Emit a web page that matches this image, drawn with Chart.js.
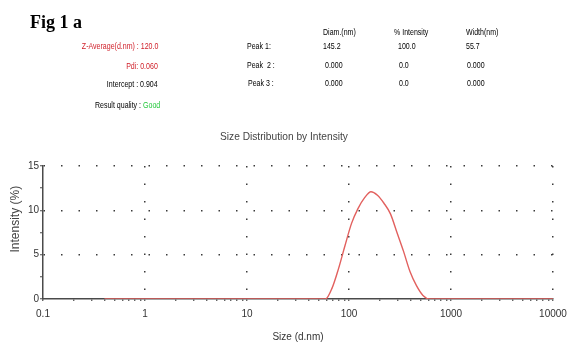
<!DOCTYPE html>
<html><head><meta charset="utf-8">
<script src="https://cdn.jsdelivr.net/npm/chart.js@4.4.1/dist/chart.umd.min.js"></script>
<style>
html,body{margin:0;padding:0;background:#fff;}
#wrap{position:relative;width:580px;height:356px;overflow:hidden;background:#fff;}
#c{position:absolute;left:0;top:0;}
.t{position:absolute;font-family:"Liberation Sans",Arial,sans-serif;font-size:9.5px;line-height:9.5px;white-space:nowrap;color:#000;transform:scaleX(0.74);}
.l{transform-origin:left center;}
.r{transform-origin:right center;}
.red{color:#d0202a;}
.grn{color:#22c83a;}
</style></head>
<body><div id="wrap">
<canvas id="c" width="580" height="356"></canvas>
<div style="position:absolute;left:30px;top:13px;font-family:'Liberation Serif','Times New Roman',serif;font-weight:bold;font-size:18px;line-height:18px;color:#000;white-space:nowrap;">Fig 1 a</div>

<div class="t r red" style="right:422px;top:40.6px;">Z-Average(d.nm) : 120.0</div>
<div class="t r red" style="right:422px;top:61px;">Pdi: 0.060</div>
<div class="t r" style="right:422px;top:79px;">Intercept : 0.904</div>
<div class="t r" style="right:420px;top:100px;">Result quality : <span class="grn">Good</span></div>

<div class="t l" style="left:247px;top:41.3px;">Peak 1:</div>
<div class="t l" style="left:247px;top:60.3px;">Peak&nbsp; 2 :</div>
<div class="t l" style="left:248px;top:78.3px;">Peak 3 :</div>

<div class="t l" style="left:323px;top:27.3px;">Diam.(nm)</div>
<div class="t l" style="left:394px;top:27.3px;">% Intensity</div>
<div class="t l" style="left:466px;top:27.3px;">Width(nm)</div>

<div class="t l" style="left:323px;top:41.3px;">145.2</div>
<div class="t l" style="left:398px;top:41.3px;">100.0</div>
<div class="t l" style="left:466px;top:41.3px;">55.7</div>

<div class="t l" style="left:325px;top:60px;">0.000</div>
<div class="t l" style="left:399px;top:60px;">0.0</div>
<div class="t l" style="left:467px;top:60px;">0.000</div>

<div class="t l" style="left:325px;top:78.3px;">0.000</div>
<div class="t l" style="left:399px;top:78.3px;">0.0</div>
<div class="t l" style="left:467px;top:78.3px;">0.000</div>

<div style="position:absolute;left:220px;top:131.9px;font-family:'Liberation Sans',Arial,sans-serif;font-size:10.2px;line-height:10.2px;color:#444;white-space:nowrap;">Size Distribution by Intensity</div>
</div>
<script>
// Size bins (d.nm)
const sizes = [0.4,0.4632,0.5365,0.6213,0.7195,0.8332,0.9649,1.117,1.294,1.499,
  1.736,2.01,2.328,2.696,3.122,3.615,4.187,4.849,5.615,6.503,
  7.531,8.721,10.1,11.7,13.54,15.69,18.17,21.04,24.36,28.21,
  32.67,37.84,43.82,50.75,58.77,68.06,78.82,91.28,105.7,122.4,
  141.8,164.2,190.1,220.2,255.0,295.3,342.0,396.1,458.7,531.2,
  615.1,712.4,825.0,955.4,1106,1281,1484,1718,1990,2305,
  2669,3091,3580,4145,4801,5560,6439,7456,8635,10000];
// Intensity (%)
const intensity = [0,0,0,0,0,0,0,0,0,0,
  0,0,0,0,0,0,0,0,0,0,
  0,0,0,0,0,0,0,0,0,0,
  0,0,0,0,0,1.2,3.4,6.0,8.5,10.2,
  11.4,12.1,11.7,10.8,9.6,7.5,5.4,3.1,1.5,0.4,
  0,0,0,0,0,0,0,0,0,0,
  0,0,0,0,0,0,0,0,0,0];
const xMajorTicks = [0.1,1,10,100,1000,10000];
const xTickLabels = ['0.1','1','10','100','1000','10000'];
const yTicks = [0,2.5,5,7.5,10,12.5,15];
const yTickLabels = {0:'0',5:'5',10:'10',15:'15'};

const xTickValues = [];
for (let d = 0; d < xMajorTicks.length - 1; d++) {
  for (let m = 1; m <= 9; m++) xTickValues.push(parseFloat((m * xMajorTicks[d]).toPrecision(6)));
}
xTickValues.push(xMajorTicks[xMajorTicks.length - 1]);

const isMajor = v => xMajorTicks.some(m => Math.abs(m - v) / m < 1e-6);
const AXIS = '#4a4a4a';
const DOT = '#3a3a3a';

new Chart(document.getElementById('c'), {
  type: 'line',
  data: {
    datasets: [{
      data: sizes.map((s, i) => ({x: s, y: intensity[i]})),
      borderColor: '#e2605e',
      borderWidth: 1.4,
      pointRadius: 0,
      fill: false,
      cubicInterpolationMode: 'monotone'
    }]
  },
  options: {
    responsive: false,
    animation: false,
    layout: {padding: {left: 0, top: 166, right: 27, bottom: 0}},
    plugins: {legend: {display: false}, tooltip: {enabled: false}, title: {display: false}},
    scales: {
      x: {
        type: 'logarithmic',
        min: 0.1, max: 10000,
        afterBuildTicks: s => { s.ticks = xTickValues.map(v => ({value: v})); },
        afterFit: s => { s.height = 57; },
        ticks: {
          autoSkip: false, maxRotation: 0, minRotation: 0, padding: 7,
          color: '#333',
          font: {family: "'Liberation Sans', Arial, sans-serif", size: 10},
          callback: (v) => { const i = xMajorTicks.findIndex(m => Math.abs(m - v) / m < 1e-6); return i >= 0 ? xTickLabels[i] : ''; }
        },
        grid: {
          color: c => (c.tick && isMajor(c.tick.value) && c.tick.value > 0.2) ? DOT : 'rgba(0,0,0,0)',
          lineWidth: 1.5,
          drawTicks: true, tickLength: 2,
          tickColor: AXIS, tickWidth: 1.2
        },
        border: {display: true, color: AXIS, width: 1.5, dash: [1.5, 16], dashOffset: 0},
        title: {display: true, text: 'Size (d.nm)', color: '#333',
          font: {family: "'Liberation Sans', Arial, sans-serif", size: 10}, padding: {top: 0, bottom: 13}}
      },
      y: {
        type: 'linear',
        min: 0, max: 15,
        afterBuildTicks: s => { s.ticks = yTicks.map(v => ({value: v})); },
        afterFit: s => { s.width = 43; },
        ticks: {
          padding: 1, color: '#333',
          font: {family: "'Liberation Sans', Arial, sans-serif", size: 10},
          callback: v => (yTickLabels[v] !== undefined ? yTickLabels[v] : '')
        },
        grid: {
          color: c => (c.tick && c.tick.value > 0 && c.tick.value % 5 === 0) ? DOT : 'rgba(0,0,0,0)',
          lineWidth: 1.5,
          drawTicks: true, tickLength: 3,
          tickColor: AXIS, tickWidth: 1.2
        },
        border: {display: true, color: AXIS, width: 1.5, dash: [1.5, 16], dashOffset: 0},
        title: {display: true, text: '        Intensity (%)', color: '#444',
          font: {family: "'Liberation Sans', Arial, sans-serif", size: 12}, padding: {top: 8, bottom: 0}}
      }
    }
  }
});
</script>
</body></html>
